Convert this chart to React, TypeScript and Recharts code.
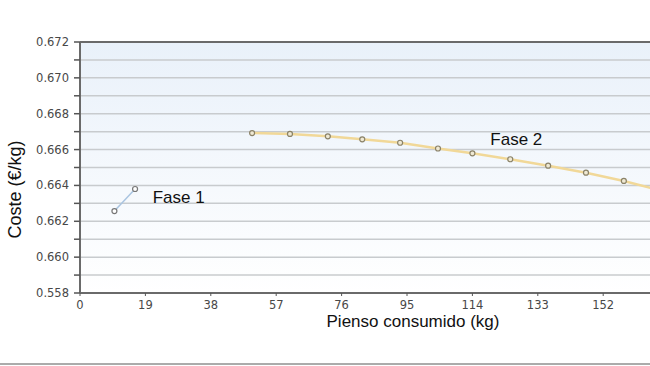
import { CartesianGrid, Line, LineChart, ReferenceDot, ReferenceLine, XAxis, YAxis } from "recharts";

const fase1X = [10, 16];
const fase1Y = [0.66257, 0.6638];

const fase2X = [50, 61, 72, 82, 93, 104, 114, 125, 136, 147, 158, 168];
const fase2Y = [0.66692, 0.66687, 0.66674, 0.66657, 0.66638, 0.66606, 0.66579, 0.66546, 0.6651, 0.66471, 0.66425, 0.66375];

const xTicks = [0, 19, 38, 57, 76, 95, 114, 133, 152];
const yTicks = [0.658, 0.659, 0.66, 0.661, 0.662, 0.663, 0.664, 0.665, 0.666, 0.667, 0.668, 0.669, 0.67, 0.671, 0.672];
const yTickLabels = ["0.558", "", "0.660", "", "0.662", "", "0.664", "", "0.666", "", "0.668", "", "0.670", "", "0.672"];

const notes = [
  { x: 21.1, y: 0.66338, text: "Fase 1" },
  { x: 119.2, y: 0.66659, text: "Fase 2" },
];

const fase1 = fase1X.map((x, i) => ({ x, y: fase1Y[i] }));
const fase2 = fase2X.map((x, i) => ({ x, y: fase2Y[i] }));

const tickFont = { fontFamily: "DejaVu Sans", fontSize: 11.5, fill: "#484848" };

function YTick(props: any) {
  const { x, y, index } = props;
  return (
    <g>
      <line x1={x + 2} x2={x + 8} y1={y} y2={y} stroke="#555" strokeWidth={1.5} />
      {yTickLabels[index] ? (
        <text x={x - 3} y={y} dy={4} textAnchor="end" {...tickFont}>
          {yTickLabels[index]}
        </text>
      ) : null}
    </g>
  );
}

export default function App() {
  return (
    <div style={{ position: "fixed", left: 0, top: 0, width: 650, height: 366, overflow: "hidden", background: "#fff" }}>
      <LineChart width={760} height={366} margin={{ top: 42, right: 26, bottom: 0, left: 0 }}>
        <defs>
          <linearGradient id="plotBg" x1="0" y1="0" x2="0" y2="1">
            <stop offset="0%" stopColor="#e9f1fa" />
            <stop offset="100%" stopColor="#ffffff" />
          </linearGradient>
        </defs>
        <CartesianGrid vertical={false} stroke="#c8cbce" strokeWidth={1.5} fill="url(#plotBg)" fillOpacity={1} />
        <XAxis
          type="number"
          dataKey="x"
          domain={[0, 190]}
          ticks={xTicks}
          height={73}
          tickSize={3}
          tickMargin={5}
          tick={tickFont}
          axisLine={{ stroke: "#6a6a6a", strokeWidth: 2 }}
          tickLine={{ stroke: "#555" }}
          label={{
            content: ({ viewBox }: any) => (
              <text
                x={viewBox.x + viewBox.width / 2 + 6}
                y={327}
                textAnchor="middle"
                fontFamily="Liberation Sans"
                fontSize={17}
                fill="#111"
              >
                Pienso consumido (kg)
              </text>
            ),
          }}
        />
        <YAxis
          type="number"
          dataKey="y"
          domain={[0.658, 0.672]}
          ticks={yTicks}
          width={80}
          tickSize={6}
          tickMargin={2}
          interval={0}
          tick={<YTick />}
          tickLine={false}
          axisLine={{ stroke: "#6a6a6a", strokeWidth: 2 }}
          label={{
            content: ({ viewBox }: any) => (
              <text
                x={15}
                y={viewBox.y + viewBox.height / 2 + 22}
                transform={`rotate(-90 15 ${viewBox.y + viewBox.height / 2 + 22})`}
                textAnchor="middle"
                dominantBaseline="central"
                fontFamily="Liberation Sans"
                fontSize={18}
                fill="#111"
              >
                Coste (€/kg)
              </text>
            ),
          }}
        />
        <ReferenceLine y={0.672} stroke="#6a6a6a" strokeWidth={2} />
        <Line
          data={fase1}
          dataKey="y"
          stroke="#a9c4e0"
          strokeWidth={1.5}
          dot={{ r: 2.5, stroke: "#777", strokeWidth: 1.2, fill: "#fff" }}
          isAnimationActive={false}
        />
        <Line
          data={fase2}
          dataKey="y"
          stroke="#f1d898"
          strokeWidth={2.5}
          dot={{ r: 2.5, stroke: "#8a8268", strokeWidth: 1.2, fill: "#efe9d4" }}
          isAnimationActive={false}
        />
        {notes.map((n) => (
          <ReferenceDot
            key={n.text}
            x={n.x}
            y={n.y}
            r={0}
            fill="none"
            stroke="none"
            label={{
              value: n.text,
              position: "right",
              offset: 0,
              fontFamily: "Liberation Sans",
              fontSize: 17,
              fill: "#111",
            }}
          />
        ))}
      </LineChart>
      <div style={{ position: "absolute", left: 0, top: 363, width: 650, height: 2, background: "#ababab" }} />
    </div>
  );
}
